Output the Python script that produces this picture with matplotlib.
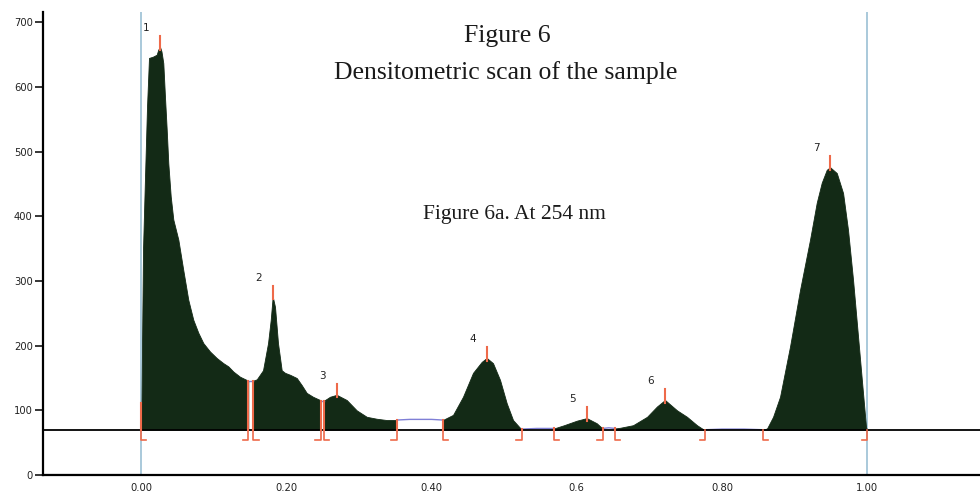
import numpy as np
import matplotlib
matplotlib.use("Agg")
import matplotlib.pyplot as plt

# ---- data ----
rf = [-0.135, -0.0005, 0.0, 0.0007, 0.0014, 0.0028, 0.0055, 0.0083, 0.011, 0.0165, 0.0216,
      0.0238, 0.0262, 0.0282, 0.0307, 0.033, 0.0354, 0.0376, 0.0409, 0.0445, 0.0514,
      0.0582, 0.0651, 0.072, 0.0789, 0.0858, 0.095, 0.1042, 0.1133, 0.1202, 0.1271,
      0.1363, 0.1455, 0.1477, 0.1547, 0.1594, 0.168, 0.1749, 0.1786, 0.1813, 0.1845,
      0.1886, 0.1937, 0.1983, 0.2052, 0.2144, 0.2213, 0.2281, 0.2368, 0.2465, 0.2474,
      0.252, 0.2602, 0.2694, 0.2832, 0.297, 0.3108, 0.3245, 0.3383, 0.3521,
      0.37, 0.40, 0.4154, 0.4296, 0.4433, 0.4571, 0.4691, 0.476, 0.4846, 0.4943,
      0.5035, 0.5122, 0.5218, 0.5241, 0.545, 0.5686, 0.5824, 0.6, 0.6137, 0.6275,
      0.6343, 0.6357, 0.644, 0.6526, 0.6595, 0.6774, 0.6967, 0.7104, 0.7214, 0.738,
      0.7517, 0.7655, 0.7737, 0.7765, 0.80, 0.83, 0.8564, 0.8619, 0.8702, 0.8798,
      0.8936, 0.9073, 0.9211, 0.9303, 0.9372, 0.9441, 0.9487, 0.9579, 0.9666, 0.9734,
      0.9803, 0.9872, 0.9937, 0.9982, 0.9996, 1.155]
intensity = [0, 0, 70, 110, 200, 350, 460, 570, 645, 647, 650,
             658, 662, 655, 637, 585, 534, 482, 431, 395, 364,
             317, 271, 240, 220, 204, 191, 181, 173, 168, 160,
             152, 147, 146, 146, 148, 162, 204, 240, 276, 260,
             204, 162, 158, 155, 150, 139, 127, 121, 116, 115,
             115, 121, 124, 116, 100, 90, 87, 85, 85,
             86, 86, 85, 93, 121, 158, 175, 181, 173, 147,
             111, 85, 73, 71, 72, 72, 77, 84, 88, 80,
             73, 72, 73, 72, 73, 77, 90, 106, 116, 100,
             90, 77, 71, 70, 71, 71, 70, 72, 90, 121,
             199, 286, 364, 421, 452, 472, 476, 467, 436, 379,
             302, 214, 131, 74, 70, 70]

peak_ids = ["1", "2", "3", "4", "5", "6", "7"]
peak_start = [0.0, 0.1547, 0.252, 0.4154, 0.5686, 0.6526, 0.8564]
peak_end = [0.1477, 0.2474, 0.3521, 0.5241, 0.6357, 0.7765, 0.9996]
peak_rf = [0.0262, 0.1813, 0.2694, 0.476, 0.6137, 0.7214, 0.9487]
baseline_level = 70

y_ticks = [0, 100, 200, 300, 400, 500, 600, 700]
x_ticks = [0.0, 0.2, 0.4, 0.6, 0.8, 1.0]
x_tick_labels = ["0.00", "0.20", "0.40", "0.6", "0.80", "1.00"]

# ---- styling ----
GREEN = "#132a16"
RED = "#ee6a4a"
LBLUE = "#a9c9da"
GAPBLUE = "#7f7fd6"

x = np.array(rf)
y = np.array(intensity)

fig = plt.figure(figsize=(9.8, 5.01), dpi=100)
ax = fig.add_axes([0.0436, 0.0519, 0.9564, 0.9241])
ax.set_xlim(-0.1353, 1.1551)
ax.set_ylim(0, 716)

# Rf start / front lines
ax.axvline(0.0, color=LBLUE, lw=1.4, zorder=1)
ax.axvline(1.0, color=LBLUE, lw=1.4, zorder=1)

# trace before start
pre = x < 0
ax.plot(x[pre], y[pre], color="#222222", lw=2.2, zorder=2, solid_capstyle="butt")

# integrated peaks (filled)
for s, e in zip(peak_start, peak_end):
    m = (x >= s - 1e-9) & (x <= e + 1e-9)
    ax.fill_between(x[m], baseline_level, y[m], color=GREEN, lw=0.6,
                    edgecolor=GREEN, zorder=3)

# non-integrated gaps (thin line)
for e, s in zip(peak_end[:-1], peak_start[1:]):
    m = (x >= e - 1e-9) & (x <= s + 1e-9)
    ax.plot(x[m], y[m], color=GAPBLUE, lw=1.0, zorder=3)

# baseline
ax.axhline(baseline_level, color="black", lw=1.3, zorder=4)

# boundary markers
foot = 0.0075
drop = 16
xs, ys = x[x >= 0], y[x >= 0]
for s, e in zip(peak_start, peak_end):
    for pos, direction in ((s, 1), (e, -1)):
        top = np.interp(pos, xs, ys)
        if pos == 0.0:
            top = 111
        ax.plot([pos, pos], [baseline_level, top], color=RED, lw=1.5, zorder=5)
        ax.plot([pos, pos, pos + direction * foot],
                [baseline_level, baseline_level - drop, baseline_level - drop],
                color=RED, lw=1.2, zorder=5)

# peak apex ticks and labels
for pid, pr in zip(peak_ids, peak_rf):
    top = np.interp(pr, xs, ys)
    ax.plot([pr, pr], [top - 4, top + 17], color=RED, lw=1.5, zorder=5)
    ax.annotate(pid, (pr, top), xytext=(-14, 19), textcoords="offset pixels",
                ha="center", va="center", fontsize=7.5, color="#222222",
                family="DejaVu Sans", zorder=6)

# axes styling
for side in ("top", "right"):
    ax.spines[side].set_visible(False)
ax.spines["left"].set_linewidth(1.6)
ax.spines["bottom"].set_linewidth(1.6)
ax.set_yticks(y_ticks)
ax.set_yticklabels([str(v) for v in y_ticks])
ax.set_xticks(x_ticks)
ax.set_xticklabels(x_tick_labels)
ax.tick_params(axis="y", length=6, width=1.1, pad=1.2, labelsize=7.2,
               labelcolor="#222222")
ax.tick_params(axis="x", length=0, pad=6, labelsize=7.2, labelcolor="#222222")
ax.set_facecolor("white")

# titles
serif = ["Liberation Serif", "DejaVu Serif"]
fig.text(507 / 980, 1 - 42 / 501, "Figure 6", ha="center", va="baseline",
         family=serif, fontsize=18.5, color="#1a1a1a")
fig.text(506 / 980, 1 - 79 / 501, "Densitometric scan of the sample", ha="center",
         va="baseline", family=serif, fontsize=18.5, color="#1a1a1a")
fig.text(514 / 980, 1 - 219 / 501, "Figure 6a. At 254 nm", ha="center",
         va="baseline", family=serif, fontsize=15.5, color="#1a1a1a")

fig.savefig("out.png", dpi=100)
